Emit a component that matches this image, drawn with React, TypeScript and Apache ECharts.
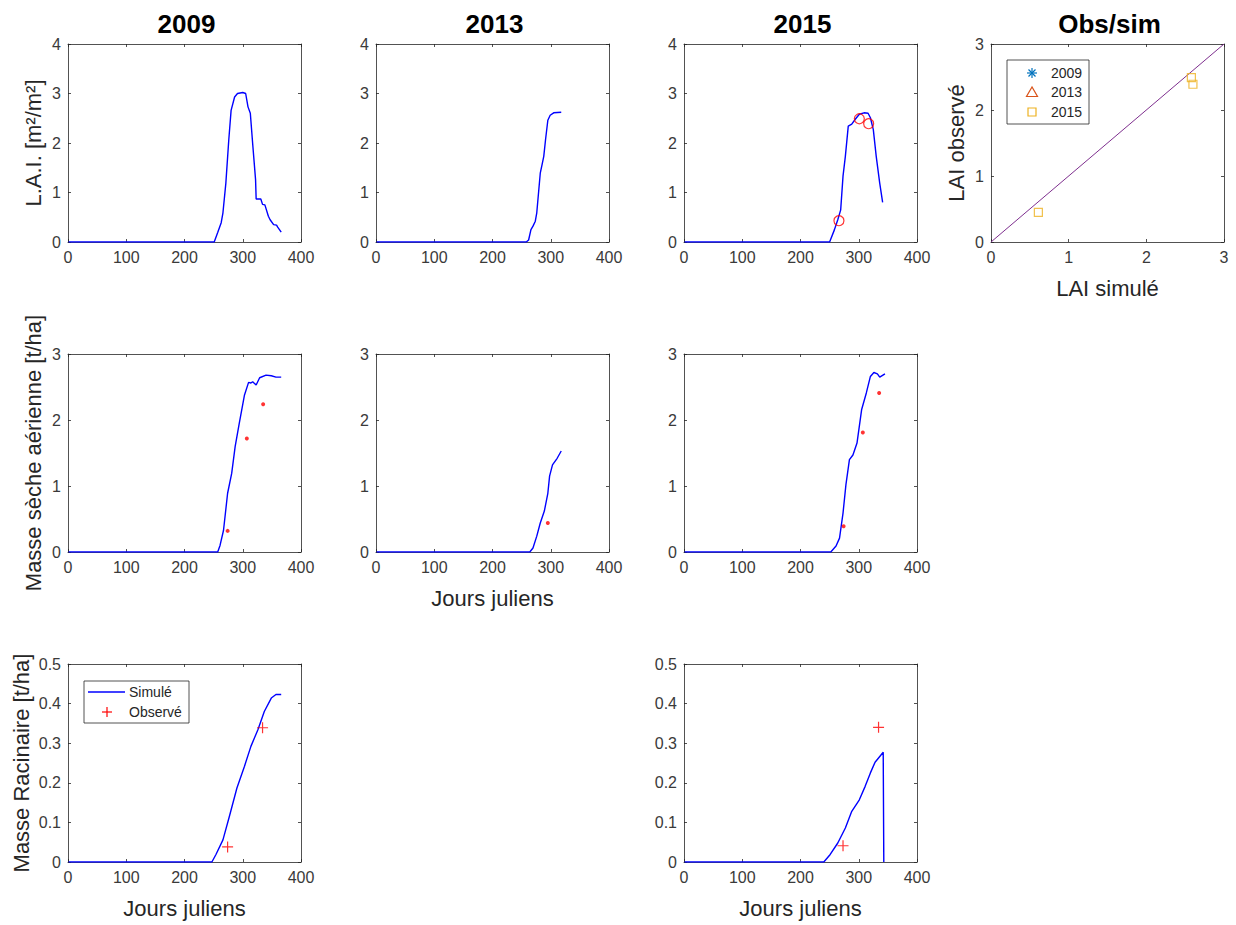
import React, { useEffect, useRef } from "react";
import * as echarts from "echarts";

// ---------- DATA ----------
const lai2009Days = [1, 251, 257, 263, 266, 271, 276, 280, 286, 291, 300, 305, 309, 313, 317, 322, 323, 331, 334, 338, 344, 347, 353, 358, 360, 363, 366];
const lai2009Vals = [0, 0, 0.19, 0.39, 0.59, 1.19, 2.06, 2.66, 2.93, 3.0, 3.02, 3.0, 2.73, 2.6, 1.99, 1.26, 0.87, 0.87, 0.76, 0.75, 0.52, 0.45, 0.35, 0.34, 0.3, 0.25, 0.2];

const lai2013Days = [1, 258, 262, 266, 269.5, 273.5, 276, 279, 282, 285, 288, 291, 295, 299, 305, 318];
const lai2013Vals = [0, 0, 0.04, 0.25, 0.32, 0.42, 0.59, 0.99, 1.39, 1.56, 1.73, 2.06, 2.46, 2.56, 2.61, 2.62];

const lai2015Days = [1, 250, 258, 264, 269, 273, 277, 282, 288, 294, 301, 309, 316, 320, 325, 330, 336, 341];
const lai2015Vals = [0, 0, 0.24, 0.45, 0.65, 1.33, 1.73, 2.34, 2.38, 2.48, 2.58, 2.61, 2.6, 2.51, 2.27, 1.73, 1.19, 0.8];
const lai2015ObsDays = [266, 301, 317];
const lai2015ObsVals = [0.43, 2.49, 2.39];

const obsSimSimulated = [0.61, 2.58, 2.6];
const obsSimObserved = [0.45, 2.49, 2.39];

const masse2009Days = [1, 257, 261, 267, 274, 281, 287, 294, 303, 310, 314, 317, 323, 329, 340, 349, 357, 366];
const masse2009Vals = [0, 0, 0.1, 0.33, 0.89, 1.19, 1.6, 1.95, 2.38, 2.57, 2.56, 2.58, 2.53, 2.64, 2.68, 2.67, 2.65, 2.65];
const masse2009ObsDays = [274, 307, 335];
const masse2009ObsVals = [0.32, 1.72, 2.24];

const masse2013Days = [1, 264, 269.5, 276, 282, 289, 295, 298, 303, 311, 318];
const masse2013Vals = [0, 0, 0.06, 0.24, 0.44, 0.62, 0.89, 1.15, 1.32, 1.42, 1.53];
const masse2013ObsDays = [295];
const masse2013ObsVals = [0.44];

const masse2015Days = [1, 252, 261, 267, 273, 278, 284, 290, 297, 305, 313, 320, 326, 332, 336, 345];
const masse2015Vals = [0, 0, 0.09, 0.21, 0.59, 1.02, 1.4, 1.47, 1.65, 2.16, 2.41, 2.66, 2.72, 2.7, 2.65, 2.7];
const masse2015ObsDays = [274, 307, 335];
const masse2015ObsVals = [0.39, 1.81, 2.41];

const racin2009Days = [1, 247, 254, 266, 277, 290, 303, 314, 326, 337, 349, 357, 366];
const racin2009Vals = [0, 0, 0.019, 0.056, 0.115, 0.187, 0.242, 0.292, 0.334, 0.38, 0.414, 0.423, 0.423];
const racin2009ObsDays = [274, 334];
const racin2009ObsVals = [0.038, 0.339];

const racin2015Days = [1, 240, 251, 264, 277, 288, 301, 311, 320, 328, 342, 343];
const racin2015Vals = [0, 0, 0.019, 0.048, 0.086, 0.128, 0.157, 0.191, 0.225, 0.252, 0.277, 0];
const racin2015ObsDays = [273, 334];
const racin2015ObsVals = [0.041, 0.34];

const titles = ["2009", "2013", "2015", "Obs/sim"];
const legendYears = ["2009", "2013", "2015"];

// ---------- STYLE ----------
const FONT = '"Liberation Sans", Arial, Helvetica, sans-serif';
const AXIS_COLOR = "#262626";
const LABEL_COLOR = "#3a3a3a";
const SIM_BLUE = "#0000ff";
const OBS_RED = "#ff0000";
const COLS = [68, 376, 684, 991];
const ROWS = [44, 354, 664];
const PW = 233;
const PH = 198;

const zip = (xs: number[], ys: number[]) => xs.map((x, i) => [x, ys[i]]);

const PLUS = "path://M5,0L5,10M0,5L10,5";

export default function App() {
  const ref = useRef<HTMLDivElement>(null);

  useEffect(() => {
    document.body.style.margin = "0";
    const chart = echarts.init(ref.current!, null, { renderer: "svg" });

    type Panel = {
      col: number; row: number; xMax: number; xInt: number; yMax: number; yInt: number;
      yName?: string; yGap?: number; xName?: string;
    };
    const panels: Panel[] = [
      { col: 0, row: 0, xMax: 400, xInt: 100, yMax: 4, yInt: 1, yName: "L.A.I. [m²/m²]", yGap: 24 },
      { col: 1, row: 0, xMax: 400, xInt: 100, yMax: 4, yInt: 1 },
      { col: 2, row: 0, xMax: 400, xInt: 100, yMax: 4, yInt: 1 },
      { col: 3, row: 0, xMax: 3, xInt: 1, yMax: 3, yInt: 1, yName: "LAI observé", yGap: 24, xName: "LAI simulé" },
      { col: 0, row: 1, xMax: 400, xInt: 100, yMax: 3, yInt: 1, yName: "Masse sèche aérienne [t/ha]", yGap: 24 },
      { col: 1, row: 1, xMax: 400, xInt: 100, yMax: 3, yInt: 1, xName: "Jours juliens" },
      { col: 2, row: 1, xMax: 400, xInt: 100, yMax: 3, yInt: 1 },
      { col: 0, row: 2, xMax: 400, xInt: 100, yMax: 0.5, yInt: 0.1, yName: "Masse Racinaire [t/ha]", yGap: 36, xName: "Jours juliens" },
      { col: 2, row: 2, xMax: 400, xInt: 100, yMax: 0.5, yInt: 0.1, xName: "Jours juliens" },
    ];

    const grid: any[] = [];
    const xAxis: any[] = [];
    const yAxis: any[] = [];
    const lineStyle = { color: AXIS_COLOR, width: 0.8 };
    const tick = { show: true, inside: true, length: 3, lineStyle };
    const axisLine = { show: true, onZero: false, lineStyle };
    const tickLabel = { color: LABEL_COLOR, fontSize: 16, fontFamily: FONT };
    const nameStyle = { color: "#262626", fontSize: 22, fontFamily: FONT };

    panels.forEach((p, i) => {
      grid.push({ left: COLS[p.col], top: ROWS[p.row], width: PW, height: PH, show: false });
      xAxis.push({
        gridIndex: i, type: "value", min: 0, max: p.xMax, interval: p.xInt, position: "bottom",
        axisLine, axisTick: tick, splitLine: { show: false },
        axisLabel: { ...tickLabel, margin: 7 },
        name: p.xName, nameLocation: "middle", nameGap: 35, nameTextStyle: nameStyle,
      });
      xAxis.push({
        gridIndex: i, type: "value", min: 0, max: p.xMax, interval: p.xInt, position: "top",
        axisLine, axisTick: tick, splitLine: { show: false }, axisLabel: { show: false },
      });
      yAxis.push({
        gridIndex: i, type: "value", min: 0, max: p.yMax, interval: p.yInt, position: "left",
        axisLine, axisTick: tick, splitLine: { show: false },
        axisLabel: { ...tickLabel, margin: 7 },
        name: p.yName, nameLocation: "middle", nameGap: p.yGap, nameRotate: 90, nameTextStyle: nameStyle,
      });
      yAxis.push({
        gridIndex: i, type: "value", min: 0, max: p.yMax, interval: p.yInt, position: "right",
        axisLine, axisTick: tick, splitLine: { show: false }, axisLabel: { show: false },
      });
    });

    const simLine = (i: number, days: number[], vals: number[]) => ({
      type: "line", name: "Simulé", xAxisIndex: 2 * i, yAxisIndex: 2 * i,
      data: zip(days, vals), showSymbol: false, symbol: "none",
      lineStyle: { color: SIM_BLUE, width: 1.4 }, itemStyle: { color: SIM_BLUE }, z: 3,
    });
    const dots = (i: number, days: number[], vals: number[]) => ({
      type: "scatter", name: "Observé", xAxisIndex: 2 * i, yAxisIndex: 2 * i,
      data: zip(days, vals), symbol: "circle", symbolSize: 4,
      itemStyle: { color: OBS_RED }, z: 4,
    });
    const plus = (i: number, days: number[], vals: number[]) => ({
      type: "scatter", name: "Observé", xAxisIndex: 2 * i, yAxisIndex: 2 * i,
      data: zip(days, vals), symbol: PLUS, symbolSize: 11,
      itemStyle: { color: "none", borderColor: OBS_RED, borderWidth: 1.2 }, z: 4,
    });

    const series: any[] = [
      simLine(0, lai2009Days, lai2009Vals),
      simLine(1, lai2013Days, lai2013Vals),
      simLine(2, lai2015Days, lai2015Vals),
      {
        type: "scatter", name: "Observé", xAxisIndex: 4, yAxisIndex: 4,
        data: zip(lai2015ObsDays, lai2015ObsVals), symbol: "circle", symbolSize: 10,
        itemStyle: { color: "rgba(0,0,0,0)", borderColor: OBS_RED, borderWidth: 1.2 }, z: 4,
      },
      {
        type: "line", name: "1:1", xAxisIndex: 6, yAxisIndex: 6, data: [[0, 0], [3, 3]],
        showSymbol: false, symbol: "none", lineStyle: { color: "#7e2f8e", width: 1 },
      },
      { type: "scatter", name: "2009", xAxisIndex: 6, yAxisIndex: 6, data: [], itemStyle: { color: "#0072bd" } },
      { type: "scatter", name: "2013", xAxisIndex: 6, yAxisIndex: 6, data: [], itemStyle: { color: "#d95319" } },
      {
        type: "scatter", name: "2015", xAxisIndex: 6, yAxisIndex: 6,
        data: zip(obsSimSimulated, obsSimObserved), symbol: "rect", symbolSize: 8,
        itemStyle: { color: "rgba(0,0,0,0)", borderColor: "#edb120", borderWidth: 1.2 }, z: 4,
      },
      simLine(4, masse2009Days, masse2009Vals),
      dots(4, masse2009ObsDays, masse2009ObsVals),
      simLine(5, masse2013Days, masse2013Vals),
      dots(5, masse2013ObsDays, masse2013ObsVals),
      simLine(6, masse2015Days, masse2015Vals),
      dots(6, masse2015ObsDays, masse2015ObsVals),
      simLine(7, racin2009Days, racin2009Vals),
      plus(7, racin2009ObsDays, racin2009ObsVals),
      simLine(8, racin2015Days, racin2015Vals),
      plus(8, racin2015ObsDays, racin2015ObsVals),
    ];

    const graphic: any[] = [];
    titles.forEach((t, c) => {
      graphic.push({
        type: "text", x: COLS[c] + PW / 2 + 2, y: 24, z: 10,
        style: { text: t, fill: "#000", font: `bold 26px ${FONT}`, align: "center", verticalAlign: "middle" },
      });
    });

    // Legend: Simulé / Observé (2009 root panel)
    const lg = { x: 84, y: 681, w: 105, h: 42 };
    graphic.push(
      { type: "rect", z: 20, shape: { x: lg.x, y: lg.y, width: lg.w, height: lg.h }, style: { fill: "#fff", stroke: AXIS_COLOR, lineWidth: 0.8 } },
      { type: "line", z: 21, shape: { x1: 88, y1: 692, x2: 125, y2: 692 }, style: { stroke: SIM_BLUE, lineWidth: 1.3 } },
      { type: "text", z: 21, x: 129, y: 692, style: { text: "Simulé", fill: "#262626", font: `14px ${FONT}`, verticalAlign: "middle" } },
      { type: "line", z: 21, shape: { x1: 102, y1: 712, x2: 112, y2: 712 }, style: { stroke: OBS_RED, lineWidth: 1.2 } },
      { type: "line", z: 21, shape: { x1: 107, y1: 707, x2: 107, y2: 717 }, style: { stroke: OBS_RED, lineWidth: 1.2 } },
      { type: "text", z: 21, x: 129, y: 712, style: { text: "Observé", fill: "#262626", font: `14px ${FONT}`, verticalAlign: "middle" } },
    );

    // Legend: years (Obs/sim panel)
    const ly = [73, 92, 112];
    const mx = 1032;
    graphic.push(
      { type: "rect", z: 20, shape: { x: 1007, y: 60, width: 82, height: 64 }, style: { fill: "#fff", stroke: AXIS_COLOR, lineWidth: 0.8 } },
      { type: "line", z: 21, shape: { x1: mx - 5, y1: ly[0], x2: mx + 5, y2: ly[0] }, style: { stroke: "#0072bd", lineWidth: 1.2 } },
      { type: "line", z: 21, shape: { x1: mx, y1: ly[0] - 5, x2: mx, y2: ly[0] + 5 }, style: { stroke: "#0072bd", lineWidth: 1.2 } },
      { type: "line", z: 21, shape: { x1: mx - 3.5, y1: ly[0] - 3.5, x2: mx + 3.5, y2: ly[0] + 3.5 }, style: { stroke: "#0072bd", lineWidth: 1.2 } },
      { type: "line", z: 21, shape: { x1: mx - 3.5, y1: ly[0] + 3.5, x2: mx + 3.5, y2: ly[0] - 3.5 }, style: { stroke: "#0072bd", lineWidth: 1.2 } },
      { type: "polygon", z: 21, shape: { points: [[mx, ly[1] - 5], [mx - 5.5, ly[1] + 4.5], [mx + 5.5, ly[1] + 4.5]] }, style: { fill: "none", stroke: "#d95319", lineWidth: 1.2 } },
      { type: "rect", z: 21, shape: { x: mx - 4, y: ly[2] - 4, width: 8, height: 8 }, style: { fill: "none", stroke: "#edb120", lineWidth: 1.2 } },
    );
    legendYears.forEach((t, k) => {
      graphic.push({ type: "text", z: 21, x: 1051, y: ly[k], style: { text: t, fill: "#262626", font: `14px ${FONT}`, verticalAlign: "middle" } });
    });

    chart.setOption({
      animation: false,
      backgroundColor: "#fff",
      textStyle: { fontFamily: FONT },
      grid, xAxis, yAxis, series, graphic,
    });

    return () => chart.dispose();
  }, []);

  return <div ref={ref} style={{ width: 1236, height: 925 }} />;
}
